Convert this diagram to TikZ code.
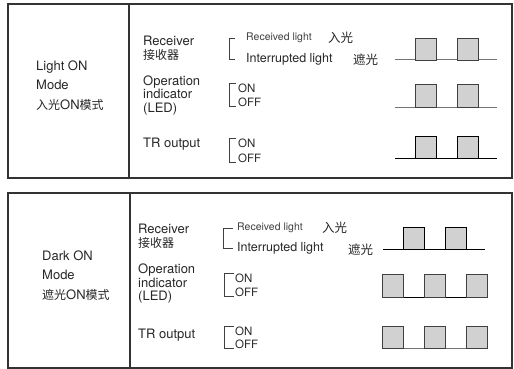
\documentclass[tikz,border=0pt]{standalone}
\usepackage{fontspec}
\setmainfont{TeX Gyre Heros}
\newfontfamily\cjk{Noto Sans CJK SC}
\usetikzlibrary{positioning}

\begin{document}
\begin{tikzpicture}[x=1pt, y=-1pt]
        % ================= styles =================
        \tikzset{
            % frame of each panel
            frame/.style={draw=black!80, line width=1.3pt},
            % text styles
            txt/.style={anchor=west, inner sep=0pt, text=black!85, align=left,
                        font=\fontsize{13}{13.5}\selectfont},
            modetxt/.style={txt, font=\fontsize{13}{19.5}\selectfont},
            lighttxt/.style={anchor=west, inner sep=0pt, text=black!75,
                        font=\fontsize{11.5}{12}\selectfont},
            statetxt/.style={anchor=west, inner sep=0pt, text=black!85,
                        font=\fontsize{11.5}{12}\selectfont},
            cjktxt/.style={anchor=west, inner sep=0pt, text=black!85,
                        font=\fontsize{12.5}{13}\selectfont\cjk},
            % bracket in front of the states
            brk/.style={draw=black!75, line width=0.6pt},
            % wave lines
            base/.style={draw=black!55, line width=1pt},
            basedark/.style={draw=black, line width=0.8pt},
            pulse/.style={fill=black!18, draw=black!75, line width=0.8pt}
        }
        \useasboundingbox (0,0) rectangle (514,369);

        % ================= 1. Light ON mode =================
        \begin{scope}[shift={(0,4)}]
            \draw[frame] (8,0) rectangle (512,174);
            \draw[frame] (129,0) -- (129,174);

            % mode name
            \node[modetxt] (mode1) at (36,81.5) {Light ON\\Mode\\{\cjk\fontsize{12}{19.5}\selectfont 入光}ON{\cjk\fontsize{12}{19.5}\selectfont 模式}};

            % row names
            \node[txt] (rcv1) at (143,37) {Receiver};
            \node[cjktxt, font=\fontsize{12}{12}\selectfont\cjk] (rcvz1) at (143,50.5) {接收器};
            \node[txt] (opr1) at (143,91.5) {Operation\\indicator\\(LED)};
            \node[txt] (tro1) at (143,140) {TR output};

            % receiver states
            \node[lighttxt, font=\fontsize{10.5}{11}\selectfont] (rl1) at (246,34) {Received light};
            \node[statetxt, font=\fontsize{12.5}{13}\selectfont] (il1) at (246,55) {Interrupted light};
            \node[cjktxt] (rlz1) at (328,34) {入光};
            \node[cjktxt] (ilz1) at (353,56) {遮光};
            \draw[brk] ([xshift=-11pt]rl1.west) -- ++(-6,0) |- ([xshift=-11pt]il1.west);

            % LED states
            \node[statetxt] (on1) at (238,84) {ON};
            \node[statetxt] (off1) at (238,98) {OFF};
            \draw[brk] ([xshift=-2pt]on1.north west) -- ++(-7,0) |- ([xshift=-2pt]off1.south west);

            % TR states
            \node[statetxt] (on2) at (238,139) {ON};
            \node[statetxt] (off2) at (238,154) {OFF};
            \draw[brk] ([xshift=-2pt]on2.north west) -- ++(-7,0) |- ([xshift=-2pt]off2.south west);

            % waves
            \draw[base] (395,56) -- (497,56);
            \foreach \a in {415,457} \draw[pulse] (\a,34) rectangle ++(21,22);
            \draw[base] (395,103) -- (497,103);
            \foreach \a in {415,457} \draw[pulse] (\a,80) rectangle ++(21,23);
            \draw[basedark] (395,154) -- (497,154);
            \foreach \a in {415,457} \draw[pulse, draw=black] (\a,132) rectangle ++(21,22);
        \end{scope}

        % ================= 2. Dark ON mode =================
        \begin{scope}[shift={(0,193)}]
            \draw[frame] (8,0) rectangle (512,175);
            \draw[frame] (130,0) -- (130,175);

            % mode name
            \node[modetxt] (mode2) at (42,82.5) {Dark ON\\Mode\\{\cjk\fontsize{12}{19.5}\selectfont 遮光}ON{\cjk\fontsize{12}{19.5}\selectfont 模式}};

            % row names
            \node[txt] (rcv2) at (138,36) {Receiver};
            \node[cjktxt, font=\fontsize{12}{12}\selectfont\cjk] (rcvz2) at (138,49.5) {接收器};
            \node[txt] (opr2) at (138,91) {Operation\\indicator\\(LED)};
            \node[txt] (tro2) at (138,142) {TR output};

            % receiver states
            \node[lighttxt, font=\fontsize{10.5}{11}\selectfont] (rl2) at (237,35) {Received light};
            \node[statetxt, font=\fontsize{12.5}{13}\selectfont] (il2) at (237,55) {Interrupted light};
            \node[cjktxt] (rlz2) at (322,35) {入光};
            \node[cjktxt] (ilz2) at (348,57) {遮光};
            \draw[brk] ([xshift=-4pt]rl2.west) -- ++(-10,0) |- ([xshift=-4pt]il2.west);

            % LED states
            \node[statetxt] (on3) at (235,85) {ON};
            \node[statetxt] (off3) at (235,99) {OFF};
            \draw[brk] ([xshift=-1pt]on3.north west) -- ++(-10,0) |- ([xshift=-1pt]off3.south west);

            % TR states
            \node[statetxt] (on4) at (235,138) {ON};
            \node[statetxt] (off4) at (235,151) {OFF};
            \draw[brk] ([xshift=-1pt]on4.north west) -- ++(-10,0) |- ([xshift=-1pt]off4.south west);

            % waves
            \draw[basedark] (383,56) -- (485,56);
            \foreach \a in {403,445} \draw[pulse, draw=black] (\a,34) rectangle ++(21,22);
            \draw[basedark] (382,104) -- (487,104);
            \foreach \a in {382,424,466} \draw[pulse] (\a,81) rectangle ++(21,23);
            \draw[base] (382,155) -- (487,155);
            \foreach \a in {382,424,466} \draw[pulse] (\a,133) rectangle ++(21,22);
        \end{scope}

    \end{tikzpicture}
\end{document}
